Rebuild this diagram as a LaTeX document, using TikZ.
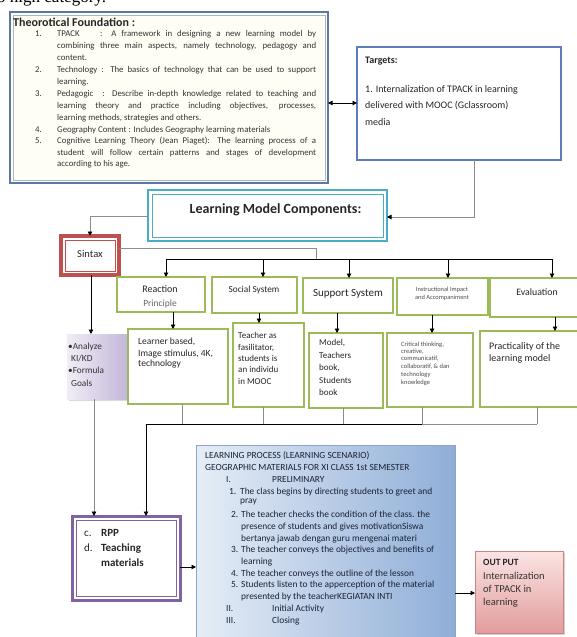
\documentclass[tikz,border=0pt]{standalone}
\usepackage{fontspec}
\setmainfont{Carlito}
\newfontfamily\serifx{Liberation Serif}
\usetikzlibrary{arrows.meta,shadows,calc}
\definecolor{tfblue}{HTML}{5B77A8}
\definecolor{tfin}{HTML}{A5B6D0}
\definecolor{tgblue}{HTML}{5C7FB8}
\definecolor{cyanb}{HTML}{4BACC6}
\definecolor{redb}{HTML}{C0504D}
\definecolor{greenb}{HTML}{9BBB59}
\definecolor{purpb}{HTML}{8064A2}
\definecolor{lav1}{HTML}{F1EDF6}
\definecolor{lav2}{HTML}{C3B6D9}
\definecolor{lp1}{HTML}{E6EDF6}
\definecolor{lp2}{HTML}{8FAED7}
\definecolor{lp3}{HTML}{8AA4CC}
\definecolor{pk1}{HTML}{FBE4E4}
\definecolor{pk2}{HTML}{E29C9C}
\definecolor{pk3}{HTML}{C98383}
\definecolor{gline}{HTML}{8C8C8C}
\definecolor{txt}{HTML}{333333}
\definecolor{lptxt}{HTML}{1A2236}
\newcommand\fs[1]{\fontsize{#1}{#1}\selectfont}
\newcommand\mybox[6]{\node[#1, anchor=north west, inner sep=0pt, outer sep=0pt, minimum width={(#5-#3)*1pt}, minimum height={(#6-#4)*1pt}] (#2) at (#3,#4) {};}
\newcommand\tx[5]{\node[#1, anchor=base west, inner sep=0pt] (#2) at (#3,#4) {#5};}
\newcommand\tc[5]{\node[#1, anchor=base, inner sep=0pt] (#2) at (#3,#4) {#5};}
\begin{document}
\begin{tikzpicture}[x=1pt,y=-1pt,
  tfbox/.style={draw=tfblue, line width=2pt, fill=white!96!yellow},
  tgbox/.style={draw=tgblue, line width=1.3pt, fill=white},
  lmcbox/.style={draw=cyanb, line width=2.8pt, fill=white},
  sinbox/.style={draw=redb, line width=3.2pt, fill=white},
  gbox/.style={draw=greenb, line width=1.3pt, fill=white},
  anbox/.style={left color=lav1, right color=lav2, drop shadow={opacity=0.3, shadow xshift=2pt, shadow yshift=-2pt}},
  rppbox/.style={draw=purpb, line width=3pt, fill=white},
  lpbox/.style={left color=lp1, right color=lp2, draw=lp3, line width=0.6pt},
  opbox/.style={top color=pk1, bottom color=pk2, draw=pk3, line width=0.7pt, drop shadow={opacity=0.35, shadow xshift=2pt, shadow yshift=-2pt}},
  gcon/.style={draw=gline, line width=0.7pt},
  bcon/.style={draw=black, line width=0.9pt},
  tip/.style={-{Triangle[length=4.5pt,width=4.5pt,color=black]}},
  tft/.style={text=txt, font=\fs{8.8}},
  lpt/.style={text=lptxt, font=\fs{9.4}},
  gt/.style={text=black!85, font=\fs{9.5}},
]
\useasboundingbox (0,0) rectangle (577,637);
\node[anchor=base west, inner sep=0pt] (topcut) at (-3,2.5) {\serifx\fs{17}o high category.};

% ---------- Theoretical foundation ----------
\mybox{tfbox}{tf}{10}{12}{328}{183}
\draw[tfin, line width=0.6pt] ($(tf.north west)+(3,3)$) rectangle ($(tf.south east)+(-3,-3)$);
\tx{font=\bfseries\fs{12}, text=black!85}{tft0}{13}{26}{Theorotical Foundation :}
\tx{tft}{tfn1}{35}{36}{1.}
\tx{tft}{tf1a}{57}{36}{\makebox[259pt][s]{\makebox[43pt][l]{TPACK}: A framework in designing a new learning model by}}
\tx{tft}{tf1b}{57}{48}{\makebox[259pt][s]{combining three main aspects, namely technology, pedagogy and}}
\tx{tft}{tf1c}{57}{60}{content.}
\tx{tft}{tfn2}{35}{72}{2.}
\tx{tft}{tf2a}{57}{72}{\makebox[259pt][s]{Technology : The basics of technology that can be used to support}}
\tx{tft}{tf2b}{57}{84}{learning.}
\tx{tft}{tfn3}{35}{96}{3.}
\tx{tft}{tf3a}{57}{96}{\makebox[259pt][s]{Pedagogic \ : Describe in-depth knowledge related to teaching and}}
\tx{tft}{tf3b}{57}{108}{\makebox[259pt][s]{learning theory and practice including objectives, processes,}}
\tx{tft}{tf3c}{57}{120}{learning methods, strategies and others.}
\tx{tft}{tfn4}{35}{132}{4.}
\tx{tft}{tf4a}{57}{132}{Geography Content : Includes Geography learning materials}
\tx{tft}{tfn5}{35}{143}{5.}
\tx{tft}{tf5a}{57}{143}{\makebox[259pt][s]{Cognitive Learning Theory (Jean Piaget): The learning process of a}}
\tx{tft}{tf5b}{57}{155}{\makebox[259pt][s]{student will follow certain patterns and stages of development}}
\tx{tft}{tf5c}{57}{166}{according to his age.}

% ---------- Targets ----------
\mybox{tgbox}{tg}{357}{47}{561}{160}
\tx{font=\bfseries\fs{10}, text=black!85}{tg0}{365}{63}{Targets:}
\tx{font=\fs{10}, text=black!85}{tg1}{365}{92.5}{1. Internalization of TPACK in learning}
\tx{font=\fs{10}, text=black!85}{tg2}{365}{108.5}{delivered with MOOC (Gclassroom)}
\tx{font=\fs{10}, text=black!85}{tg3}{365}{125}{media}
\coordinate (da) at (340,103);
\draw[bcon, {Triangle[length=4.5pt,width=4.5pt]}-{Triangle[length=4.5pt,width=4.5pt]}] (tf.east |- da) -- (tg.west |- da);

% ---------- Learning model components ----------
\mybox{lmcbox}{lmc}{148}{190}{387}{241}
\draw[cyanb, line width=0.8pt] ($(lmc.north west)+(4,4)$) rectangle ($(lmc.south east)+(-4,-4)$);
\tc{font=\bfseries\fs{14}, text=black!85}{lmct}{275.5}{213}{Learning Model Components:}
\coordinate (tl) at (474,217);
\draw[gcon, tip] (tg.south -| tl) |- (lmc.east |- tl);

% ---------- Sintax ----------
\mybox{sinbox}{sin}{61}{236}{119}{275}
\draw[redb, line width=0.7pt] ($(sin.north west)+(4,4)$) rectangle ($(sin.south east)+(-4,-4)$);
\tc{font=\fs{10.5}, text=black!85}{sint}{90}{257}{Sintax}
\coordinate (ls) at (90,216);
\draw[gcon, tip] (lmc.west |- ls) -| (sin.north);

% ---------- component boxes ----------
\mybox{gbox}{rp}{117}{277}{205}{312}
\mybox{gbox}{ss}{212}{277}{297}{313}
\mybox{gbox}{sup}{303}{278}{393}{313}
\mybox{gbox}{ii}{397}{278}{488}{315}
\mybox{gbox}{ev}{490}{278}{582}{317}
\tc{font=\fs{10}, text=black!85}{rpt1}{160}{292.5}{Reaction}
\tc{font=\fs{9.5}, text=black!60}{rpt2}{160}{306}{Principle}
\tc{font=\fs{9.3}, text=black!85}{sst}{254}{292.5}{Social System}
\tc{font=\fs{11}, text=black!85}{supt}{348}{296.5}{Support System}
\tc{font=\fs{6.4}, text=black!70}{iit1}{442}{291}{Instructional Impact}
\tc{font=\fs{6.4}, text=black!70}{iit2}{442}{299.5}{and Accompaniment}
\tc{font=\fs{9.8}, text=black!85}{evt}{537}{295.5}{Evaluation}

% Sintax -> bus
\coordinate (s1) at (316,248);
\coordinate (busL) at (166,259);
\coordinate (busR) at (552,259);
\draw[gcon] (sin.east |- s1) -| (busL -| s1);
\draw[bcon] (busL) -- (busR);
\coordinate (a1) at (166,259);
\coordinate (a2) at (263,259);
\coordinate (a3) at (349,259);
\coordinate (a4) at (448,259);
\coordinate (a5) at (552,259);
\draw[bcon, tip] (a1) -- (a1 |- rp.north);
\draw[bcon, tip] (a2) -- (a2 |- ss.north);
\draw[bcon, tip] (a3) -- (a3 |- sup.north);
\draw[bcon, tip] (a4) -- (a4 |- ii.north);
\draw[bcon, tip] (a5) -- (a5 |- ev.north);

% ---------- Analyze ----------
\mybox{anbox}{an}{67}{334}{128}{399}
\tx{font=\fs{9.3}, text=black!80}{ant1}{68}{349}{•Analyze}
\tx{font=\fs{9.3}, text=black!80}{ant2}{71}{361}{KI/KD}
\tx{font=\fs{9.3}, text=black!80}{ant3}{68}{373}{•Formula}
\tx{font=\fs{9.3}, text=black!80}{ant4}{71}{386}{Goals}
\coordinate (sa) at (91,300);
\draw[bcon, tip] (sa |- sin.south) -- (sa |- an.north);

% ---------- content boxes ----------
\mybox{gbox}{lb}{128}{329}{228}{404}
\mybox{gbox}{tb}{233}{323}{304}{407}
\mybox{gbox}{mb}{309}{333}{383}{408}
\mybox{gbox}{cb}{387}{333}{473}{407}
\mybox{gbox}{pb}{480}{331}{582}{407}
\tx{font=\fs{9.5}, text=black!85}{lbt1}{138}{344}{Learner based,}
\tx{font=\fs{9.5}, text=black!85}{lbt2}{138}{356}{Image stimulus, 4K,}
\tx{font=\fs{9.5}, text=black!85}{lbt3}{138}{366.5}{technology}
\tx{font=\fs{9}, text=black!85}{tbt1}{238}{338}{Teacher as}
\tx{font=\fs{9}, text=black!85}{tbt2}{238}{350}{fasilitator,}
\tx{font=\fs{9}, text=black!85}{tbt3}{238}{361}{students is}
\tx{font=\fs{9}, text=black!85}{tbt4}{238}{372}{an individu}
\tx{font=\fs{9}, text=black!85}{tbt5}{238}{384}{in MOOC}
\tx{font=\fs{9}, text=black!85}{mbt1}{319}{345}{Model,}
\tx{font=\fs{9}, text=black!85}{mbt2}{319}{358}{Teachers}
\tx{font=\fs{9}, text=black!85}{mbt3}{319}{370}{book,}
\tx{font=\fs{9}, text=black!85}{mbt4}{319}{383}{Students}
\tx{font=\fs{9}, text=black!85}{mbt5}{319}{395}{book}
\tx{font=\fs{6.5}, text=black!70}{cbt1}{401}{346}{Critical thinking,}
\tx{font=\fs{6.5}, text=black!70}{cbt2}{401}{353}{creative,}
\tx{font=\fs{6.5}, text=black!70}{cbt3}{401}{360.5}{communicatif,}
\tx{font=\fs{6.5}, text=black!70}{cbt4}{401}{368.5}{collaboratif, \& dan}
\tx{font=\fs{6.5}, text=black!70}{cbt5}{401}{376.5}{technology}
\tx{font=\fs{6.5}, text=black!70}{cbt6}{401}{384.5}{knowledge}
\tx{font=\fs{10}, text=black!85}{pbt1}{489}{349}{Practicality of the}
\tx{font=\fs{10}, text=black!85}{pbt2}{489}{361}{learning model}
\coordinate (d1) at (173,0);
\coordinate (d2) at (259,0);
\coordinate (d3) at (337,0);
\coordinate (d4) at (432,0);
\coordinate (d5) at (555,0);
\draw[bcon, tip] (d1 |- rp.south) -- (d1 |- lb.north);
\draw[bcon, tip] (d2 |- ss.south) -- (d2 |- tb.north);
\draw[bcon, tip] (d3 |- sup.south) -- (d3 |- mb.north);
\draw[bcon, tip] (d4 |- ii.south) -- (d4 |- cb.north);
\draw[bcon, tip] (d5 |- ev.south) -- (d5 |- pb.north);

% bottom bus
\coordinate (bb) at (146,424);
\coordinate (bbR) at (537,424);
\coordinate (e1) at (182,424);
\coordinate (e2) at (263,424);
\coordinate (e3) at (343,424);
\coordinate (e4) at (422,424);
\draw[gcon] (e1 |- lb.south) -- (e1);
\draw[gcon] (e2 |- tb.south) -- (e2);
\draw[gcon] (e3 |- mb.south) -- (e3);
\draw[gcon] (e4 |- cb.south) -- (e4);
\draw[gcon] (bbR |- pb.south) -- (bbR);
\draw[bcon] (bb) -- (e4);
\draw[gcon] (e4) -- (bbR);

% ---------- RPP ----------
\mybox{rppbox}{rpp}{72}{516}{180}{600}
\draw[purpb, line width=0.7pt] ($(rpp.north west)+(4,4)$) rectangle ($(rpp.south east)+(-4,-4)$);
\tx{font=\fs{11}, text=black!85}{rppt1}{84}{536}{c.}
\tx{font=\bfseries\fs{11}, text=black!85}{rppt2}{101}{536}{RPP}
\tx{font=\fs{11}, text=black!85}{rppt3}{84}{551.5}{d.}
\tx{font=\bfseries\fs{11}, text=black!85}{rppt4}{101}{551.5}{Teaching}
\tx{font=\bfseries\fs{11}, text=black!85}{rppt5}{101}{566.5}{materials}
\draw[bcon, tip] (bb) -- (bb |- rpp.north);
\coordinate (an1) at (94,0);
\draw[gcon, tip] (an1 |- an.south) -- (an1 |- rpp.north);

% ---------- Learning process ----------
\mybox{lpbox}{lp}{196}{445}{455}{645}
\tx{lpt}{lp1}{205}{458}{LEARNING PROCESS (LEARNING SCENARIO)}
\tx{lpt}{lp2}{205}{470}{GEOGRAPHIC MATERIALS FOR XI CLASS 1st SEMESTER}
\tx{lpt}{lp3a}{226}{482}{I.}
\tx{lpt}{lp3b}{272}{482}{PRELIMINARY}
\tx{lpt}{lp4a}{229}{494}{1.}
\tx{lpt}{lp4b}{240}{494}{The class begins by directing students to greet and}
\tx{lpt}{lp5}{240}{503}{pray}
\tx{lpt}{lp6a}{231}{517}{2.}
\tx{lpt}{lp6b}{241}{517}{The teacher checks the condition of the class. the}
\tx{lpt}{lp7}{241}{529}{presence of students and gives motivationSiswa}
\tx{lpt}{lp8}{241}{541}{bertanya jawab dengan guru mengenai materi}
\tx{lpt}{lp9a}{231}{552}{3.}
\tx{lpt}{lp9b}{241}{552}{The teacher conveys the objectives and benefits of}
\tx{lpt}{lp10}{241}{564}{learning}
\tx{lpt}{lp11a}{231}{576}{4.}
\tx{lpt}{lp11b}{241}{576}{The teacher conveys the outline of the lesson}
\tx{lpt}{lp12a}{231}{587}{5.}
\tx{lpt}{lp12b}{241}{587}{Students listen to the apperception of the material}
\tx{lpt}{lp13}{241}{599}{presented by the teacherKEGIATAN INTI}
\tx{lpt}{lp14a}{226}{611}{II.}
\tx{lpt}{lp14b}{272}{611}{Initial Activity}
\tx{lpt}{lp15a}{226}{623}{III.}
\tx{lpt}{lp15b}{272}{623}{Closing}
\coordinate (rl) at (0,567);
\draw[bcon, tip] (rpp.east |- rl) -- (lp.west |- rl);

% ---------- Output ----------
\mybox{opbox}{op}{475}{551}{563}{633}
\tx{font=\bfseries\fs{9.5}, text=black!85}{opt1}{483}{565.5}{OUT PUT}
\tx{font=\fs{10.5}, text=black!80}{opt2}{483}{579.5}{Internalization}
\tx{font=\fs{10.5}, text=black!80}{opt3}{483}{592}{of TPACK in}
\tx{font=\fs{10.5}, text=black!80}{opt4}{483}{605}{learning}
\coordinate (lo) at (0,593);
\draw[bcon, tip] (lp.east |- lo) -- (op.west |- lo);
\end{tikzpicture}
\end{document}
